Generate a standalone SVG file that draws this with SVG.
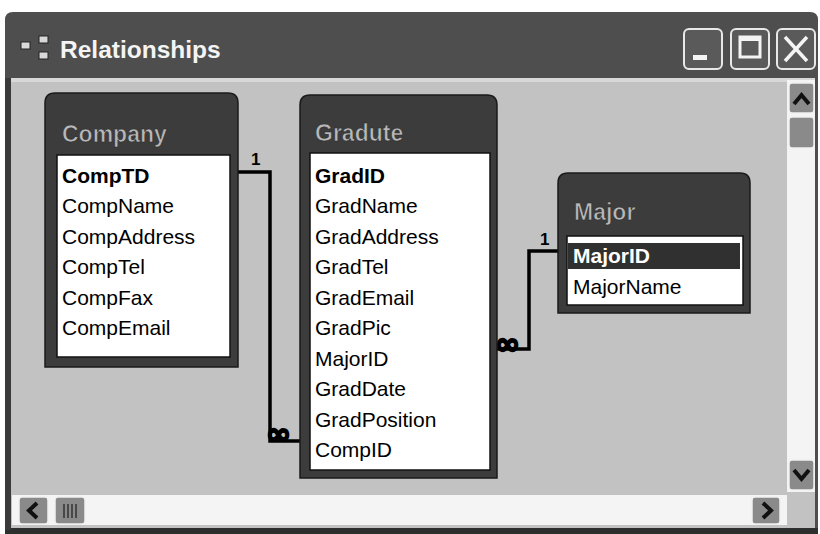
<svg xmlns="http://www.w3.org/2000/svg" width="820" height="534" viewBox="0 0 820 534">
<defs>
<style>
.title{font-family:"Liberation Sans",Arial,sans-serif;font-weight:bold;font-size:24.5px;fill:#f4f4f4}
.hdr{font-family:"Liberation Sans",Arial,sans-serif;font-weight:bold;font-size:23px;fill:#b8b8b8;stroke:#2a2a2a;stroke-width:0.6}
.fld{font-family:"Liberation Sans",Arial,sans-serif;font-size:21px;fill:#000}
.pk{font-weight:bold}
.sel{fill:#fff;font-weight:bold}
.frame{fill:#3c3c3c;stroke:#1a1a1a;stroke-width:1.5}
.list{fill:#fff;stroke:#111;stroke-width:1.5}
.conn{fill:none;stroke:#000;stroke-width:3.5;stroke-linejoin:miter}
.one{font-family:"Liberation Sans",Arial,sans-serif;font-weight:bold;font-size:17px;fill:#000}
.many{font-family:"DejaVu Sans",sans-serif;font-weight:bold;font-size:30px;fill:#000;stroke:#000;stroke-width:2}
.btn{fill:#5a5a5a;stroke:#e8e8e8;stroke-width:2}
.sbtn{fill:#8a8a8a;stroke:#f0f0f0;stroke-width:1.5}
.arrow{fill:none;stroke:#111;stroke-width:4}
</style>
</defs>
<rect x="0" y="0" width="820" height="534" fill="#ffffff"/>
<!-- window -->
<g id="window">
<path d="M5 534 V20 Q5 12 13 12 H810 Q818 12 818 20 V534 Z" fill="#4e4e4e"/>
<rect x="10" y="78" width="805" height="450" fill="#c2c2c2"/>
<rect x="10" y="78" width="805" height="4" fill="#d8d8d8"/>
<rect x="5" y="528" width="813" height="6" fill="#2e2e2e"/>
<rect x="5" y="78" width="6" height="452" fill="#3a3a3a"/>
<!-- title icon -->
<rect x="21" y="42" width="9" height="7" fill="#d8d8d8" stroke="#222" stroke-width="1"/>
<rect x="39" y="36" width="9" height="7" fill="#d8d8d8" stroke="#222" stroke-width="1"/>
<rect x="39" y="52" width="9" height="7" fill="#d8d8d8" stroke="#222" stroke-width="1"/>
<text class="title" x="60" y="58">Relationships</text>
<!-- buttons -->
<rect class="btn" x="684" y="29" width="38" height="40" rx="5"/>
<rect x="693" y="55" width="14" height="5" fill="#f4f4f4"/>
<rect class="btn" x="731" y="29" width="38" height="40" rx="5"/>
<rect x="740" y="37" width="20" height="20" fill="none" stroke="#f4f4f4" stroke-width="3"/>
<rect x="740" y="37" width="20" height="4" fill="#f4f4f4"/>
<rect class="btn" x="777" y="29" width="38" height="40" rx="5"/>
<path d="M785 37 L807 61 M807 37 L785 61" stroke="#f4f4f4" stroke-width="3.5"/>
</g>
<!-- scrollbars -->
<g id="vscroll">
<rect x="787" y="80" width="28" height="412" fill="#f4f4f4"/>
<rect class="sbtn" x="789" y="83" width="25" height="30" rx="3"/>
<path class="arrow" d="M794 104 L801.5 95 L809 104"/>
<rect class="sbtn" x="789" y="117" width="25" height="31" rx="3"/>
<rect class="sbtn" x="789" y="460" width="25" height="30" rx="3"/>
<path class="arrow" d="M794 470 L801.5 479 L809 470"/>
</g>
<g id="hscroll">
<rect x="12" y="495" width="775" height="30" fill="#f4f4f4"/>
<rect x="787" y="492" width="28" height="35" fill="#c2c2c2"/>
<rect class="sbtn" x="19" y="497" width="29" height="27" rx="3"/>
<path class="arrow" d="M37 503 L29 510.5 L37 518"/>
<rect class="sbtn" x="55" y="497" width="30" height="27" rx="3"/>
<path d="M64 504 V518 M68 504 V518 M72 504 V518 M76 504 V518" stroke="#333" stroke-width="1.5"/>
<rect class="sbtn" x="752" y="497" width="28" height="27" rx="3"/>
<path class="arrow" d="M763 503 L771 510.5 L763 518"/>
</g>
<!-- connectors -->
<g id="connectors">
<path class="conn" d="M238 172 H270 V441 H300"/>
<path class="conn" d="M497 349 H529 V251 H558"/>
<text class="one" x="251" y="165">1</text>
<text class="one" x="540" y="245">1</text>
<text class="many" x="266" y="444">∞</text>
<text class="many" x="495" y="354">∞</text>
</g>
<!-- Company -->
<g id="company">
<path class="frame" d="M45 367 V103 Q45 93 55 93 H228 Q238 93 238 103 V367 Z"/>
<rect class="list" x="57" y="155" width="173" height="202"/>
<text class="hdr" x="62" y="142">Company</text>
<text class="fld pk" x="62" y="183">CompTD</text>
<text class="fld" x="62" y="213">CompName</text>
<text class="fld" x="62" y="244">CompAddress</text>
<text class="fld" x="62" y="274">CompTel</text>
<text class="fld" x="62" y="305">CompFax</text>
<text class="fld" x="62" y="335">CompEmail</text>
</g>
<!-- Graduate -->
<g id="graduate">
<path class="frame" d="M300 478 V105 Q300 95 310 95 H487 Q497 95 497 105 V478 Z"/>
<rect class="list" x="310" y="153" width="180" height="317"/>
<text class="hdr" x="315" y="141">Gradute</text>
<text class="fld pk" x="315" y="183">GradID</text>
<text class="fld" x="315" y="213">GradName</text>
<text class="fld" x="315" y="244">GradAddress</text>
<text class="fld" x="315" y="274">GradTel</text>
<text class="fld" x="315" y="305">GradEmail</text>
<text class="fld" x="315" y="335">GradPic</text>
<text class="fld" x="315" y="366">MajorID</text>
<text class="fld" x="315" y="396">GradDate</text>
<text class="fld" x="315" y="427">GradPosition</text>
<text class="fld" x="315" y="457">CompID</text>
</g>
<!-- Major -->
<g id="major">
<path class="frame" d="M558 313 V183 Q558 173 568 173 H740 Q750 173 750 183 V313 Z"/>
<rect class="list" x="567" y="236" width="176" height="69"/>
<rect x="568" y="243" width="172" height="26" fill="#303030"/>
<text class="hdr" x="574" y="220">Major</text>
<text class="fld sel" x="573" y="263">MajorID</text>
<text class="fld" x="573" y="294">MajorName</text>
</g>
</svg>
